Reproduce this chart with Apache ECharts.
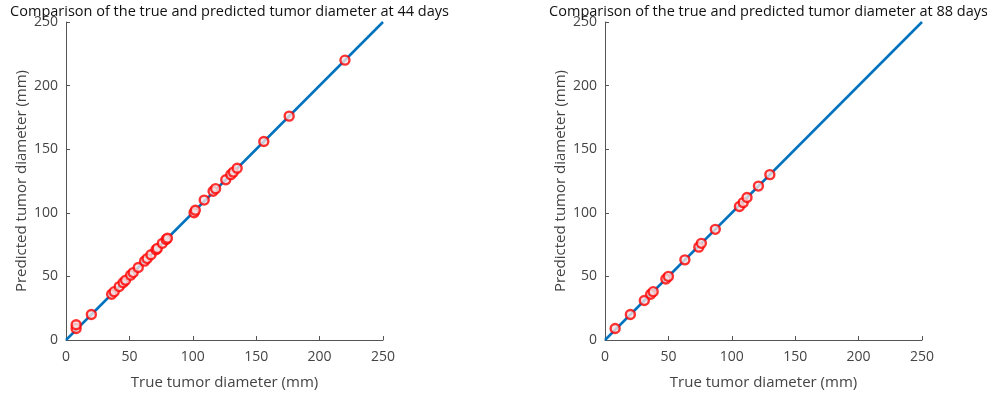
<!DOCTYPE html>
<html>
<head>
<meta charset="utf-8">
<script src="https://cdn.jsdelivr.net/npm/echarts@6/dist/echarts.min.js"></script>
<style>
  html, body { margin: 0; padding: 0; background: #fff; }
  #chart { width: 987px; height: 397px; }
</style>
</head>
<body>
<div id="chart"></div>
<script>
// Axis range and ticks shared by both panels
const axisMin = 0;
const axisMax = 250;
const tickStep = 50;

const titles = [
  'Comparison of the true and predicted tumor diameter at 44 days',
  'Comparison of the true and predicted tumor diameter at 88 days'
];
const xLabel = 'True tumor diameter (mm)';
const yLabel = 'Predicted tumor diameter (mm)';

// [true, predicted] diameters at 44 days
const day44 = [
  [8, 9], [8, 12], [20, 20], [36, 36], [38, 38], [42, 42], [45, 45], [47, 47],
  [51, 51], [53, 53], [57, 57], [62, 62], [64, 64], [67, 67], [71, 71], [72, 72],
  [76, 76], [79, 79], [80, 80], [101, 100], [102, 102], [109, 110], [116, 117],
  [118, 119], [126, 126], [130, 130], [132, 132], [135, 135], [156, 156],
  [176, 176], [220, 220]
];

// [true, predicted] diameters at 88 days
const day88 = [
  [8, 9], [20, 20], [31, 31], [36, 36], [38, 38], [48, 48], [50, 50], [63, 63],
  [74, 73], [76, 76], [87, 87], [106, 105], [109, 108], [112, 112], [121, 121],
  [130, 130]
];

// identity reference line y = x
const identity = [[axisMin, axisMin], [axisMax, axisMax]];

const FONT = 'Open Sans';
const axisColor = '#555';
const textColor = '#444';

function xAxis(gridIndex) {
  return {
    type: 'value', gridIndex, min: axisMin, max: axisMax, interval: tickStep,
    name: xLabel, nameLocation: 'middle', nameGap: 35,
    nameTextStyle: { fontFamily: FONT, fontSize: 15, color: textColor },
    axisLine: { show: true, lineStyle: { color: axisColor, width: 1 } },
    axisTick: { show: true, inside: true, length: 4, lineStyle: { color: axisColor } },
    axisLabel: { fontFamily: FONT, fontSize: 14, color: textColor, margin: 10 },
    splitLine: { show: false }
  };
}
function yAxis(gridIndex) {
  return {
    type: 'value', gridIndex, min: axisMin, max: axisMax, interval: tickStep,
    name: yLabel, nameLocation: 'middle', nameGap: 37,
    nameTextStyle: { fontFamily: FONT, fontSize: 15, color: textColor },
    axisLine: { show: true, lineStyle: { color: axisColor, width: 1 } },
    axisTick: { show: true, inside: true, length: 4, lineStyle: { color: axisColor } },
    axisLabel: { fontFamily: FONT, fontSize: 14, color: textColor, margin: 8 },
    splitLine: { show: false }
  };
}
function lineSeries(i) {
  return {
    type: 'line', xAxisIndex: i, yAxisIndex: i, data: identity,
    symbol: 'none', lineStyle: { color: '#0072BD', width: 2.5 }, z: 2, silent: true
  };
}
function scatterSeries(i, data) {
  return {
    type: 'scatter', xAxisIndex: i, yAxisIndex: i, data,
    symbol: 'circle', symbolSize: 9,
    itemStyle: { color: '#f2e2e2', borderColor: '#ff0000', borderWidth: 2.4 }, z: 3
  };
}

const chart = echarts.init(document.getElementById('chart'), null, { renderer: 'canvas' });
chart.setOption({
  animation: false,
  backgroundColor: '#fff',
  title: [
    { text: titles[0], left: 224.5, top: -1, textAlign: 'center',
      textStyle: { fontFamily: FONT, fontSize: 14.5, fontWeight: 'normal', color: '#111' } },
    { text: titles[1], left: 763.5, top: -1, textAlign: 'center',
      textStyle: { fontFamily: FONT, fontSize: 14.5, fontWeight: 'normal', color: '#111' } }
  ],
  grid: [
    { left: 66, top: 22, width: 317, height: 318 },
    { left: 605, top: 22, width: 317, height: 318 }
  ],
  xAxis: [xAxis(0), xAxis(1)],
  yAxis: [yAxis(0), yAxis(1)],
  series: [lineSeries(0), scatterSeries(0, day44), lineSeries(1), scatterSeries(1, day88)]
});
</script>
</body>
</html>
